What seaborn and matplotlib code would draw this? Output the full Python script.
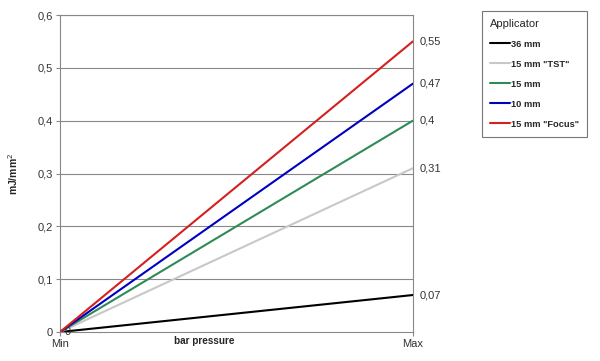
import matplotlib
matplotlib.use("Agg")
import matplotlib.pyplot as plt
import seaborn as sns
import pandas as pd
from matplotlib.lines import Line2D

sns.set_theme(style="white")
plt.rcParams['font.family'] = ['Liberation Sans', 'DejaVu Sans']

x_labels = ["Min", "Max"]
series_names = ["36 mm", "15 mm \"TST\"", "15 mm", "10 mm", "15 mm \"Focus\""]
start_values = [0, 0, 0, 0, 0]
end_values = [0.07, 0.31, 0.4, 0.47, 0.55]
end_labels = ["0,07", "0,31", "0,4", "0,47", "0,55"]
colors = ["#000000", "#c8c8c8", "#2e8b57", "#0000c0", "#d42020"]
y_ticks = [0, 0.1, 0.2, 0.3, 0.4, 0.5, 0.6]
y_tick_labels = ["0", "0,1", "0,2", "0,3", "0,4", "0,5", "0,6"]

rows = []
for name, s, e in zip(series_names, start_values, end_values):
    rows.append({"x": 0, "y": s, "Applicator": name})
    rows.append({"x": 1, "y": e, "Applicator": name})
df = pd.DataFrame(rows)

fig = plt.figure(figsize=(6, 3.61), dpi=100)
ax = fig.add_axes([0.1, 0.0803, 0.588, 0.878])

for yt in y_ticks[1:]:
    ax.axhline(yt, color="#888888", lw=0.8, zorder=0)

sns.lineplot(data=df, x="x", y="y", hue="Applicator", hue_order=series_names,
             palette=colors, linewidth=1.5, ax=ax, legend=False, zorder=3)

ax.set_xlim(0, 1)
ax.set_ylim(0, 0.6)
ax.set_yticks(y_ticks)
ax.set_yticklabels(y_tick_labels, fontsize=8, color="#333333")
ax.set_xticks([0, 1])
ax.set_xticklabels(x_labels, fontsize=8, color="#333333")
ax.tick_params(axis="both", length=3, width=0.8, color="#888888", pad=2,
               left=True, bottom=True)
for side in ["left", "right", "bottom", "top"]:
    ax.spines[side].set_color("#888888")
    ax.spines[side].set_linewidth(0.8)

ax.set_xlabel("")
ax.set_ylabel("mJ/mm$^2$", fontsize=7.5, fontweight="bold", labelpad=13)
ax.text(0.408, -0.028, "bar pressure", transform=ax.transAxes, fontsize=7.2,
        fontweight="bold", ha="center", va="center")

for v, lab in zip(end_values, end_labels):
    ax.text(1.02, v, lab, transform=ax.get_yaxis_transform(), fontsize=8,
            color="#333333", va="center", ha="left", clip_on=False)
ax.text(0.012, 0.0, "0", fontsize=8, color="#333333", va="center", ha="left")

handles = [Line2D([0], [0], color=c, lw=1.5) for c in colors]
leg = fig.legend(handles, series_names, title="Applicator",
                 loc="upper left", bbox_to_anchor=(0.803, 0.970),
                 borderaxespad=0,
                 frameon=True, fancybox=False, edgecolor="#555555",
                 handlelength=2.2, handletextpad=0.1, labelspacing=1.18,
                 borderpad=0.85, prop={"size": 6.7, "weight": "bold"},
                 title_fontsize=8)
leg._legend_box.align = "left"
leg.get_frame().set_linewidth(0.8)

fig.savefig("out.png", dpi=100)
